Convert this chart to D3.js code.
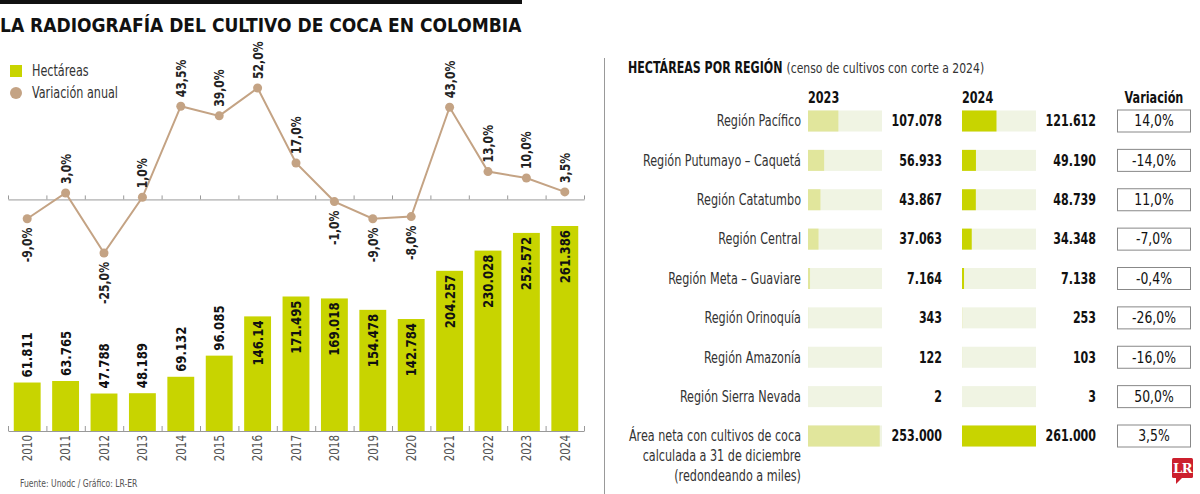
<!DOCTYPE html>
<html>
<head>
<meta charset="utf-8">
<script src="https://cdn.jsdelivr.net/npm/d3@7"></script>
<style>
  body{margin:0;background:#fff;}
  svg text{font-family:'DejaVu Sans Condensed','DejaVu Sans',sans-serif;}
</style>
</head>
<body>
<div class="chart"></div>
<script>
//Datos
const years = ['2010','2011','2012','2013','2014','2015','2016','2017','2018','2019','2020','2021','2022','2023','2024'];
const hectareas = [61811,63765,47788,48189,69132,96085,146140,171495,169018,154478,142784,204257,230028,252572,261386];
const hectareasLabels = ['61.811','63.765','47.788','48.189','69.132','96.085','146.14','171.495','169.018','154.478','142.784','204.257','230.028','252.572','261.386'];
const variacion = [-9,3,-25,1,43.5,39,52,17,-1,-9,-8,43,13,10,3.5];

const regiones = ['Región Pacífico','Región Putumayo – Caquetá','Región Catatumbo','Región Central','Región Meta – Guaviare','Región Orinoquía','Región Amazonía','Región Sierra Nevada','Área neta con cultivos de coca|calculada a 31 de diciembre|(redondeando a miles)'];
const region2023 = [107078,56933,43867,37063,7164,343,122,2,253000];
const region2024 = [121612,49190,48739,34348,7138,253,103,3,261000];
const regionVar = [14,-14,11,-7,-0.4,-26,-16,50,3.5];

const GREEN = '#c8d400';
const PALE = '#e1e69c';
const TRACK = '#f0f4e3';
const TAN = '#c4a384';

const es = d3.formatLocale({decimal:',',thousands:'.',grouping:[3],currency:['$',''],minus:'-'});
const fmtInt = es.format(',d');
const fmtPct = v => es.format('.1f')(v) + '%';

const svg = d3.select('.chart').append('svg').attr('width',1200).attr('height',494);

//la fuente original es condensada: se comprime el texto a lo ancho
function condense(sel, k){
  sel.each(function(){
    const len = this.getComputedTextLength();
    d3.select(this).attr('textLength', len*k).attr('lengthAdjust','spacingAndGlyphs');
  });
}

function drawHeader(){
  svg.append('rect').attr('x',0).attr('y',0).attr('width',522).attr('height',4).attr('fill','#111');
  const title = svg.append('text').attr('x',0).attr('y',32)
     .style('font-size','20px').style('font-weight','bold').style('fill','#111')
     .text('LA RADIOGRAFÍA DEL CULTIVO DE COCA EN COLOMBIA');
  condense(title,0.95);

  const legend = svg.append('g').attr('class','legend');
  legend.append('rect').attr('x',10).attr('y',65).attr('width',12).attr('height',12).attr('fill',GREEN);
  legend.append('circle').attr('cx',16).attr('cy',93).attr('r',6).attr('fill',TAN);
  legend.append('text').attr('x',32).attr('y',71).attr('dy','0.35em')
        .style('font-size','15px').style('fill','#333').text('Hectáreas');
  legend.append('text').attr('x',32).attr('y',93).attr('dy','0.35em')
        .style('font-size','15px').style('fill','#333').text('Variación anual');
  condense(legend.selectAll('text'),0.83);

  const foot = svg.append('text').attr('x',20).attr('y',487)
     .style('font-size','10.5px').style('fill','#555').text('Fuente: Unodc / Gráfico: LR-ER');
  condense(foot,0.81);
}

function drawLeftChart(){
  const data = years.map((y,i)=>({year:y,value:hectareas[i],label:hectareasLabels[i],pct:variacion[i]}));
  const xScale = d3.scaleBand().domain(years).range([8,584]).paddingInner(0.3).paddingOuter(0.15);
  const edges = d3.scaleLinear().domain([0,years.length]).range([8,584]);
  const yBar = d3.scaleLinear().domain([0,261386]).range([431,226]);
  const yVar = d3.scaleLinear().domain([-25,52]).range([253,88]);

  const bars = svg.append('g').attr('class','bars');
  bars.selectAll('rect').data(data).enter().append('rect')
      .attr('x',d=>xScale(d.year)).attr('y',d=>yBar(d.value))
      .attr('width',xScale.bandwidth()).attr('height',d=>yBar(0)-yBar(d.value))
      .attr('fill',GREEN);

  const barLabels = bars.selectAll('text').data(data).enter().append('text')
      .attr('transform',d=>{
        const inside = d.value>120000;
        const y = inside ? yBar(d.value)+4 : yBar(d.value)-5;
        return `translate(${xScale(d.year)+xScale.bandwidth()/2},${y}) rotate(-90)`;
      })
      .attr('dy','0.35em')
      .attr('text-anchor',d=>d.value>120000?'end':'start')
      .style('font-size','14px').style('font-weight','bold').style('fill','#111')
      .text(d=>d.label);
  condense(barLabels,0.93);

  //eje inferior
  const bottomAxis = d3.axisBottom(edges).tickValues(d3.range(years.length+1)).tickSize(-5).tickSizeOuter(0).tickFormat('');
  const bottomDraw = svg.append('g').attr('transform','translate(0,431)').call(bottomAxis);
  bottomDraw.selectAll('line,path').attr('stroke','#999');

  const yearAxis = d3.axisBottom(xScale).tickSize(0);
  const yearDraw = svg.append('g').attr('transform','translate(0,431)').call(yearAxis);
  yearDraw.select('.domain').remove();
  yearDraw.attr('font-family',null);
  yearDraw.selectAll('text')
          .attr('transform','rotate(-90)').attr('x',-4).attr('y',0).attr('dy','0.35em')
          .attr('text-anchor','end')
          .style('font-size','13.5px').style('fill','#555');
  condense(yearDraw.selectAll('text'),0.85);

  //eje del cero
  const zeroAxis = d3.axisBottom(edges).tickValues(d3.range(years.length+1)).tickSize(-4).tickSizeOuter(0).tickFormat('');
  const zeroDraw = svg.append('g').attr('transform',`translate(0,${yVar(0)})`).call(zeroAxis);
  zeroDraw.selectAll('line,path').attr('stroke','#999');

  const cx = d=>xScale(d.year)+xScale.bandwidth()/2;
  const line = d3.line().x(cx).y(d=>yVar(d.pct));
  svg.append('path').datum(data).attr('d',line)
     .attr('fill','none').attr('stroke',TAN).attr('stroke-width',2);
  svg.append('g').selectAll('circle').data(data).enter().append('circle')
     .attr('cx',cx).attr('cy',d=>yVar(d.pct)).attr('r',4.5).attr('fill',TAN);

  const pctLabels = svg.append('g').selectAll('text').data(data).enter().append('text')
     .attr('transform',d=>{
       const y = d.pct>=0 ? yVar(d.pct)-9 : yVar(d.pct)+9;
       return `translate(${cx(d)},${y}) rotate(-90)`;
     })
     .attr('dy','0.35em')
     .attr('text-anchor',d=>d.pct>=0?'start':'end')
     .style('font-size','14px').style('font-weight','bold').style('fill','#222')
     .text(d=>fmtPct(d.pct));
  condense(pctLabels,0.86);
}

function drawRightTable(){
  svg.append('line').attr('x1',604.5).attr('x2',604.5).attr('y1',58).attr('y2',494)
     .attr('stroke','#999');

  //cabecera: escala horizontal en vez de textLength para que la caja coincida
  const h1 = svg.append('text').attr('transform','translate(628,73) scale(0.77,1)')
     .style('font-size','16px').style('font-weight','bold').style('fill','#111')
     .text('HECTÁREAS POR REGIÓN');
  const h1w = h1.node().getComputedTextLength()*0.77;
  svg.append('text').attr('transform',`translate(${628+h1w+4},73) scale(0.86,1)`)
     .style('font-size','14px').style('fill','#333')
     .text('(censo de cultivos con corte a 2024)');

  const cols = svg.append('g').style('font-size','16px').style('font-weight','bold').style('fill','#111');
  cols.append('text').attr('x',808).attr('y',103).text('2023');
  cols.append('text').attr('x',962).attr('y',103).text('2024');
  cols.append('text').attr('x',1154).attr('y',103).attr('text-anchor','middle').text('Variación');
  condense(cols.selectAll('text'),0.78);

  const data = regiones.map((r,i)=>({name:r,v23:region2023[i],v24:region2024[i],pct:regionVar[i]}));
  const yScale = d3.scalePoint().domain(regiones).range([121,436]);
  const wScale = d3.scaleLinear().domain([0,261000]).range([0,74]);

  const rows = svg.append('g').selectAll('g').data(data).enter().append('g')
                  .attr('transform',d=>`translate(0,${yScale(d.name)})`);

  rows.each(function(d){
    const g = d3.select(this);
    d.name.split('|').forEach((t,k)=>{
      g.append('text').attr('class','rlabel').attr('x',801).attr('y',k*20).attr('dy','0.35em').attr('text-anchor','end')
       .style('font-size','15px').style('fill','#333').text(t);
    });
  });
  condense(rows.selectAll('.rlabel'),0.83);

  rows.append('rect').attr('x',808).attr('y',-10.5).attr('width',wScale(261000)).attr('height',21).attr('fill',TRACK);
  rows.append('rect').attr('x',808).attr('y',-10.5).attr('width',d=>Math.max(wScale(d.v23),d.v23>1000?1.5:0)).attr('height',21).attr('fill',PALE);
  const t23 = rows.append('text').attr('x',942).attr('dy','0.35em').attr('text-anchor','end')
      .style('font-size','15px').style('font-weight','bold').style('fill','#111').text(d=>fmtInt(d.v23));

  rows.append('rect').attr('x',962).attr('y',-10.5).attr('width',wScale(261000)).attr('height',21).attr('fill',TRACK);
  rows.append('rect').attr('x',962).attr('y',-10.5).attr('width',d=>Math.max(wScale(d.v24),d.v24>1000?1.5:0)).attr('height',21).attr('fill',GREEN);
  const t24 = rows.append('text').attr('x',1096).attr('dy','0.35em').attr('text-anchor','end')
      .style('font-size','15px').style('font-weight','bold').style('fill','#111').text(d=>fmtInt(d.v24));
  condense(t23,0.82);
  condense(t24,0.82);

  rows.append('rect').attr('x',1117.5).attr('y',-11).attr('width',73).attr('height',22)
      .attr('fill','#fff').attr('stroke','#888');
  const tv = rows.append('text').attr('x',1154).attr('dy','0.35em').attr('text-anchor','middle')
      .style('font-size','15px').style('fill','#111').text(d=>fmtPct(d.pct));
  condense(tv,0.92);

  //logo
  const logo = svg.append('g').attr('transform','translate(1172,458)');
  logo.append('rect').attr('width',21).attr('height',20).attr('rx',1.5).attr('fill','#cc1f2d');
  logo.append('path').attr('d','M4,19 L4,26 L11,19 Z').attr('fill','#cc1f2d');
  logo.append('text').attr('x',10.5).attr('y',15).attr('text-anchor','middle')
      .style('font-family','"DejaVu Serif","Liberation Serif",serif').style('font-size','13px')
      .style('font-weight','bold').style('fill','#fff').style('letter-spacing','-0.5px').text('LR');
}

drawHeader();
drawLeftChart();
drawRightTable();
</script>
</body>
</html>
